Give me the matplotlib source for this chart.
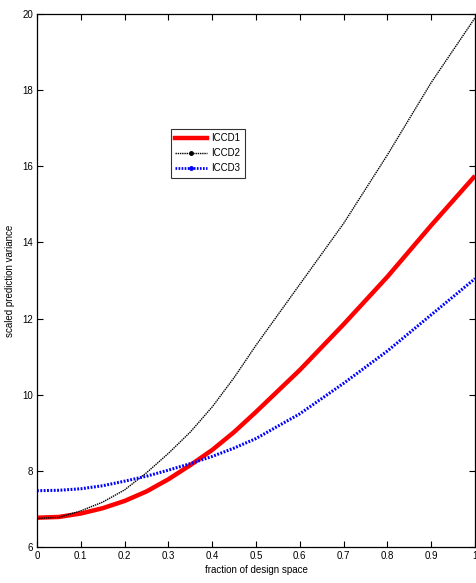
import matplotlib.pyplot as plt
from matplotlib.lines import Line2D

plt.rcParams['font.family'] = ['Liberation Sans', 'DejaVu Sans']

# fraction of design space and scaled prediction variance
frac = [0, 0.05, 0.1, 0.15, 0.2, 0.25, 0.3, 0.35, 0.4, 0.45, 0.5,
        0.6, 0.7, 0.8, 0.9, 1.0]
iccd1 = [6.77, 6.79, 6.88, 7.02, 7.21, 7.46, 7.78, 8.15, 8.55, 9.02, 9.55,
         10.65, 11.85, 13.1, 14.45, 15.75]
iccd2 = [6.75, 6.78, 6.95, 7.18, 7.5, 7.95, 8.46, 9.02, 9.68, 10.45, 11.3,
         12.9, 14.5, 16.3, 18.2, 19.9]
iccd3 = [7.48, 7.49, 7.53, 7.61, 7.73, 7.86, 8.02, 8.19, 8.38, 8.6, 8.85,
         9.5, 10.3, 11.15, 12.1, 13.05]

fig = plt.figure(figsize=(4.76, 5.83), dpi=100)
ax = fig.add_axes([0.0777, 0.0617, 0.9203, 0.9143])

ax.plot(frac, iccd1, color='#ff0000', lw=3.2, solid_capstyle='butt')
ax.plot(frac, iccd2, color='black', lw=1.0, ls=(0, (1, 0.6)))
ax.plot(frac, iccd3, color='#0000ff', lw=2.2, ls=(0, (0.6, 0.5)))

ax.set_xlim(0, 1)
ax.set_ylim(6, 20)
ax.set_xticks([0, 0.1, 0.2, 0.3, 0.4, 0.5, 0.6, 0.7, 0.8, 0.9, 1])
ax.set_xticklabels(['0', '0.1', '0.2', '0.3', '0.4', '0.5', '0.6', '0.7', '0.8', '0.9', '1'])
ax.set_yticks([6, 8, 10, 12, 14, 16, 18, 20])
ax.tick_params(direction='in', length=4, width=0.8, labelsize=7,
               top=True, right=True, pad=3)
for s in ax.spines.values():
    s.set_linewidth(0.9)

ax.set_xlabel('fraction of design space', fontsize=7, labelpad=3)
ax.set_ylabel('scaled prediction variance', fontsize=7, labelpad=5)

handles = [
    Line2D([], [], color='#ff0000', lw=3.2),
    Line2D([], [], color='black', lw=1.0, ls=(0, (1, 0.6)), marker='o', markersize=2.5),
    Line2D([], [], color='#0000ff', lw=2.0, ls=(0, (0.6, 0.5)), marker='o', markersize=2.5),
]
leg = ax.legend(handles, ['ICCD1', 'ICCD2', 'ICCD3'], loc='upper left',
                bbox_to_anchor=(0.305, 0.785), fontsize=7, frameon=True,
                fancybox=False, edgecolor='black', handlelength=3.2,
                handletextpad=0.5, borderpad=0.5, labelspacing=0.5,
                borderaxespad=0)
leg.get_frame().set_linewidth(0.8)

fig.savefig('out.png', dpi=100)
